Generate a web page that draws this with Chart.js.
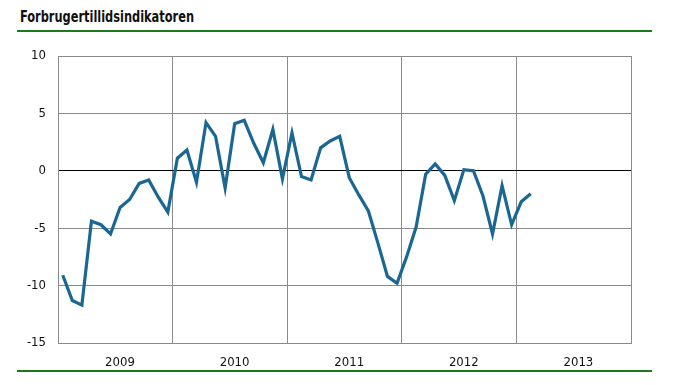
<!DOCTYPE html>
<html>
<head>
<meta charset="utf-8">
<script src="https://cdn.jsdelivr.net/npm/chart.js@4"></script>
<style>
  html, body { margin: 0; padding: 0; background: #fff; }
  #wrap { position: relative; width: 679px; height: 385px; overflow: hidden; }
  #title { position: absolute; left: 20px; top: 8px; font-family: "Liberation Sans Narrow", "DejaVu Sans Condensed", "Open Sans", sans-serif; font-weight: bold; font-size: 15px; color: #111; white-space: nowrap; transform-origin: 0 0; }
  .gl { position: absolute; left: 17px; width: 635px; height: 2px; background: #1c7a1c; }
  canvas { position: absolute; left: 0; top: 0; }
</style>
</head>
<body>
<div id="wrap">
  <div id="title">Forbrugertillidsindikatoren</div>
  <div class="gl" style="top:30px"></div>
  <div class="gl" style="top:370px"></div>
  <canvas id="c" width="679" height="385"></canvas>
</div>
<script>
const years = ['2009', '2010', '2011', '2012', '2013'];
const monthsPerYear = 12;
// Monthly index values, Jan 2009 onward
const values = [
  -9.1, -11.3, -11.7, -4.4, -4.7, -5.5, -3.2, -2.5, -1.1, -0.8, -2.3, -3.6,
  1.1, 1.8, -1.0, 4.2, 3.0, -1.5, 4.1, 4.4, 2.4, 0.7, 3.6, -0.7,
  3.3, -0.5, -0.8, 2.0, 2.6, 3.0, -0.6, -2.1, -3.5, -6.3, -9.2, -9.8,
  -7.5, -4.9, -0.3, 0.6, -0.4, -2.6, 0.1, 0.0, -2.2, -5.5, -1.3, -4.7,
  -2.7, -2.0
];
const yTicks = [-15, -10, -5, 0, 5, 10];

// fit title to the reference's narrow width
(function () {
  const t = document.getElementById('title');
  const w = t.getBoundingClientRect().width;
  if (w > 0) t.style.transform = 'scaleX(' + (174 / w) + ')';
})();

const points = values.map((v, i) => ({ x: i + 0.5, y: v }));
const tickFont = { family: '"Liberation Sans Narrow", "DejaVu Sans Condensed", "Open Sans", sans-serif', size: 13 };

new Chart(document.getElementById('c'), {
  type: 'line',
  data: {
    datasets: [{
      data: points,
      borderColor: '#1a6794',
      borderWidth: 3.2,
      pointRadius: 0,
      tension: 0,
      fill: false
    }]
  },
  options: {
    responsive: false,
    animation: false,
    events: [],
    layout: { padding: { left: 0, right: 48, top: 56, bottom: 0 } },
    plugins: { legend: { display: false }, tooltip: { enabled: false } },
    scales: {
      x: {
        type: 'linear',
        min: 0,
        max: years.length * monthsPerYear,
        afterBuildTicks: (s) => { s.ticks = years.concat(['']).map((_, i) => ({ value: i * monthsPerYear })); },
        afterFit: (s) => { s.height = 42; },
        grid: { color: '#8a8a8a', lineWidth: 1, drawTicks: false },
        border: { color: '#8a8a8a', width: 1 },
        ticks: {
          padding: 12,
          labelOffset: 62,
          maxRotation: 0,
          autoSkip: false,
          color: '#111',
          font: tickFont,
          callback: (v) => years[Math.round(v / monthsPerYear)] || ''
        }
      },
      y: {
        min: yTicks[0],
        max: yTicks[yTicks.length - 1],
        afterBuildTicks: (s) => { s.ticks = yTicks.map(v => ({ value: v })); },
        afterFit: (s) => { s.width = 58; },
        grid: {
          color: (ctx) => ctx.tick && ctx.tick.value === 0 ? '#000' : '#8a8a8a',
          lineWidth: 1,
          drawTicks: false
        },
        border: { color: '#8a8a8a', width: 1 },
        ticks: { padding: 12, color: '#111', font: tickFont }
      }
    }
  },
  plugins: [{
    id: 'frame',
    afterDraw(chart) {
      const a = chart.chartArea, c = chart.ctx;
      c.save();
      c.strokeStyle = '#8a8a8a';
      c.lineWidth = 1;
      c.beginPath();
      c.moveTo(a.left, Math.round(a.top) + 0.5);
      c.lineTo(Math.round(a.right) + 0.5, Math.round(a.top) + 0.5);
      c.lineTo(Math.round(a.right) + 0.5, a.bottom);
      c.stroke();
      c.restore();
    }
  }]
});
</script>
</body>
</html>
